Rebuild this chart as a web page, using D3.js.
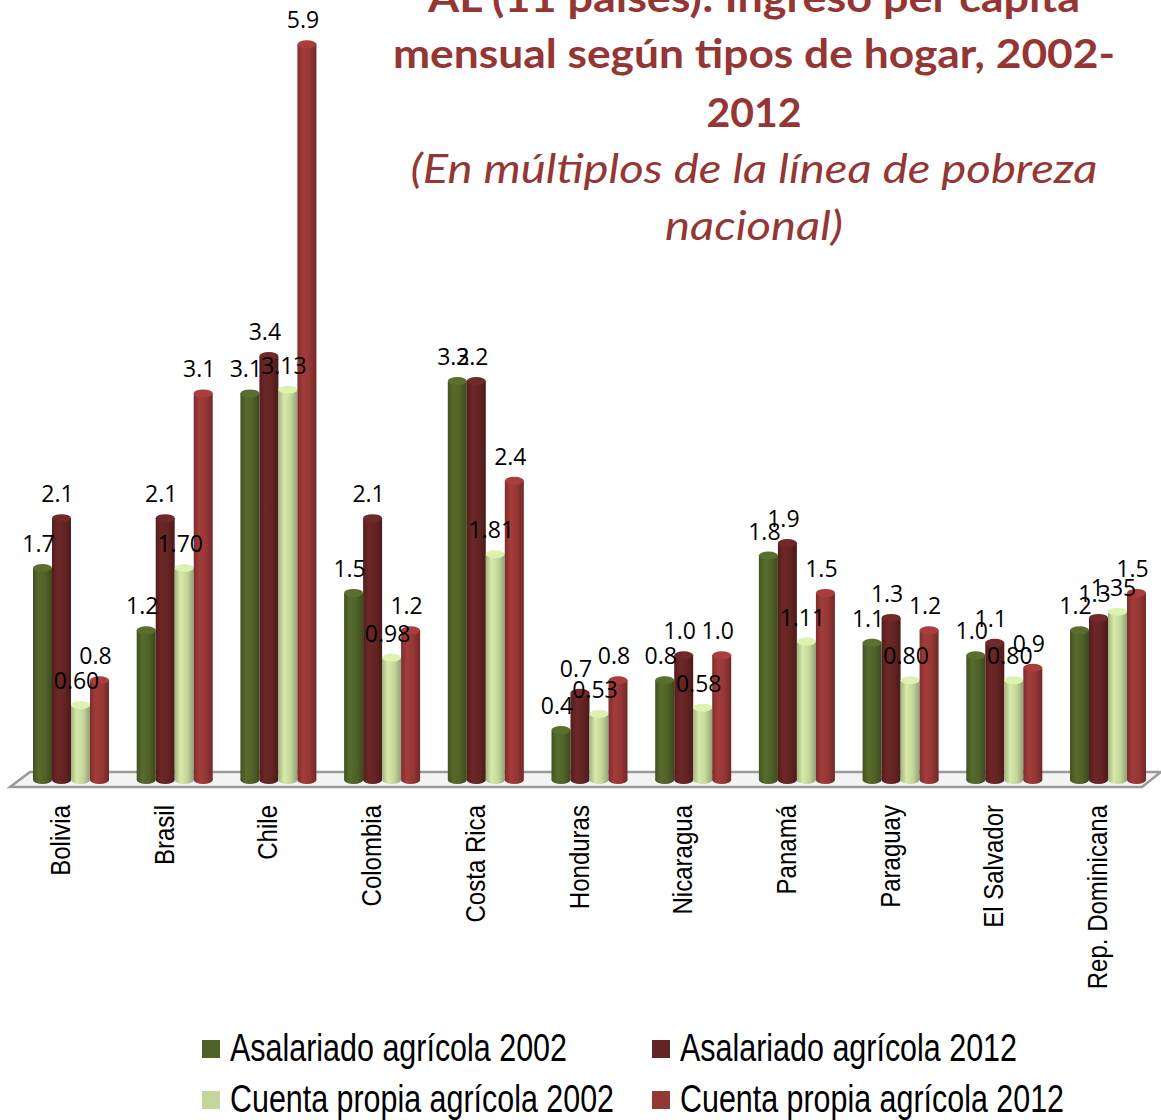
<!DOCTYPE html>
<html>
<head>
<meta charset="utf-8">
<script src="https://cdn.jsdelivr.net/npm/d3@7"></script>
<style>
  body { margin: 0; background: #fff; }
  svg { display: block; }
</style>
</head>
<body>
<svg id="chart" width="1161" height="1120"></svg>
<script>
// data //
const countries = ["Bolivia", "Brasil", "Chile", "Colombia", "Costa Rica", "Honduras",
    "Nicaragua", "Panamá", "Paraguay", "El Salvador", "Rep. Dominicana"]
const series = ["Asalariado agrícola 2002", "Asalariado agrícola 2012",
    "Cuenta propia agrícola 2002", "Cuenta propia agrícola 2012"]
const asal2002 = [1.7, 1.2, 3.1, 1.5, 3.2, 0.4, 0.8, 1.8, 1.1, 1.0, 1.2]
const asal2012 = [2.1, 2.1, 3.4, 2.1, 3.2, 0.7, 1.0, 1.9, 1.3, 1.1, 1.3]
const cp2002 = [0.60, 1.70, 3.13, 0.98, 1.81, 0.53, 0.58, 1.11, 0.80, 0.80, 1.35]
const cp2012 = [0.8, 3.1, 5.9, 1.2, 2.4, 0.8, 1.0, 1.5, 1.2, 0.9, 1.5]
const labels2002a = ["1.7", "1.2", "3.1", "1.5", "3.2", "0.4", "0.8", "1.8", "1.1", "1.0", "1.2"]
const labels2012a = ["2.1", "2.1", "3.4", "2.1", "3.2", "0.7", "1.0", "1.9", "1.3", "1.1", "1.3"]
const labels2002c = ["0.60", "1.70", "3.13", "0.98", "1.81", "0.53", "0.58", "1.11", "0.80", "0.80", "1.35"]
const labels2012c = ["0.8", "3.1", "5.9", "1.2", "2.4", "0.8", "1.0", "1.5", "1.2", "0.9", "1.5"]
const colors = ["#4f6228", "#632423", "#c3d69b", "#953735"]
const titleLines = ["AL (11 países): Ingreso per cápita", "mensual según tipos de hogar, 2002-", "2012"]
const subtitleLines = ["(En múltiplos de la línea de pobreza", "nacional)"]

const values = [asal2002, asal2012, cp2002, cp2012]
const labels = [labels2002a, labels2012a, labels2002c, labels2012c]

const svg = d3.select("#chart")
const defs = svg.append("defs")

// cylinder shading //
colors.forEach((c, i) => {
    const g = defs.append("linearGradient").attr("id", "cyl" + i)
        .attr("x1", "0%").attr("x2", "100%")
    const base = d3.color(c)
    g.append("stop").attr("offset", "0%").attr("stop-color", base.darker(0.5))
    g.append("stop").attr("offset", "30%").attr("stop-color", base.brighter(0.25))
    g.append("stop").attr("offset", "65%").attr("stop-color", base)
    g.append("stop").attr("offset", "100%").attr("stop-color", base.darker(0.8))
})

// scales //
const baseY = 780
const x = d3.scaleBand().domain(countries).range([33, 1146]).paddingInner(0.267).paddingOuter(0)
const xs = d3.scaleBand().domain(d3.range(series.length)).range([0, x.bandwidth()])
const y = d3.scaleLinear().domain([0, 6]).range([baseY, baseY - 6 * 124.7])

// floor //
svg.append("polygon")
    .attr("points", "30,772 1161,772 1142,787 10,787")
    .attr("fill", "#f4f4f4")
    .attr("stroke", "#9a9a9a")
    .attr("stroke-width", 2.5)

// bars //
const ry = 4
countries.forEach((c, ci) => {
    const g = svg.append("g").attr("transform", `translate(${x(c)},0)`)
    series.forEach((s, si) => {
        const v = values[si][ci]
        const bx = xs(si), bw = xs.bandwidth()
        const top = y(v)
        g.append("ellipse")
            .attr("cx", bx + bw / 2).attr("cy", baseY)
            .attr("rx", bw / 2).attr("ry", ry)
            .attr("fill", `url(#cyl${si})`)
        g.append("rect")
            .attr("x", bx).attr("y", top)
            .attr("width", bw).attr("height", baseY - top)
            .attr("fill", `url(#cyl${si})`)
        g.append("ellipse")
            .attr("cx", bx + bw / 2).attr("cy", top)
            .attr("rx", bw / 2).attr("ry", ry)
            .attr("fill", d3.color(colors[si]).brighter(0.35))
    })
})

// data labels //
countries.forEach((c, ci) => {
    series.forEach((s, si) => {
        const v = values[si][ci]
        svg.append("text")
            .attr("x", x(c) + xs(si) + xs.bandwidth() / 2 - 4)
            .attr("y", y(v) - 16)
            .attr("text-anchor", "middle")
            .attr("font-family", "'Open Sans', sans-serif")
            .attr("font-size", 23)
            .attr("fill", "#000")
            .text(labels[si][ci])
    })
})

// category labels //
countries.forEach(c => {
    svg.append("text")
        .attr("transform", `translate(${x(c) + x.bandwidth() / 2 - 1},805) rotate(-90) scale(0.89,1)`)
        .attr("text-anchor", "end")
        .attr("font-family", "'Liberation Sans', sans-serif")
        .attr("font-size", 27)
        .attr("fill", "#000")
        .text(c)
})

// title //
const titleY = [12, 68, 127]
const titleW = [652, 722, 95]
titleLines.forEach((t, i) => {
    svg.append("text")
        .attr("x", 754).attr("y", titleY[i])
        .attr("text-anchor", "middle")
        .attr("font-family", "Lato, sans-serif")
        .attr("font-weight", "bold")
        .attr("font-size", 41)
        .attr("fill", "#943634")
        .attr("textLength", titleW[i])
        .attr("lengthAdjust", "spacingAndGlyphs")
        .text(t)
})
const subY = [183, 240]
const subW = [687, 178]
subtitleLines.forEach((t, i) => {
    svg.append("text")
        .attr("x", 754).attr("y", subY[i])
        .attr("text-anchor", "middle")
        .attr("font-family", "Lato, sans-serif")
        .attr("font-style", "italic")
        .attr("font-size", 41)
        .attr("fill", "#943634")
        .attr("textLength", subW[i])
        .attr("lengthAdjust", "spacingAndGlyphs")
        .text(t)
})

// legend //
const legX = [202, 652], legY = [1040, 1091]
const legW = [337, 337, 384, 384]
series.forEach((s, i) => {
    const lx = legX[i % 2], ly = legY[Math.floor(i / 2)]
    svg.append("rect")
        .attr("x", lx).attr("y", ly)
        .attr("width", 18).attr("height", 18)
        .attr("fill", colors[i])
    svg.append("text")
        .attr("x", lx + 28).attr("y", ly + 21)
        .attr("font-family", "'Liberation Sans Narrow', 'Liberation Sans', sans-serif")
        .attr("font-size", 38)
        .attr("fill", "#000")
        .attr("textLength", legW[i])
        .attr("lengthAdjust", "spacingAndGlyphs")
        .text(s)
})
</script>
</body>
</html>
